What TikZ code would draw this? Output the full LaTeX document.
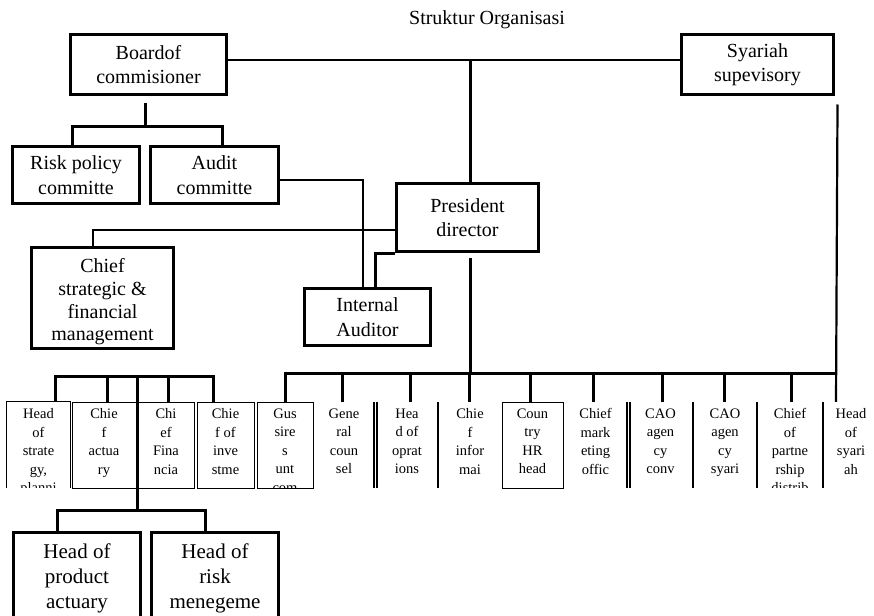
\documentclass[tikz,border=0pt]{standalone}
\usepackage{fontspec}
\setmainfont{Liberation Serif}
\begin{document}
\begin{tikzpicture}[x=1pt,y=-1pt]
\tikzset{
 mainbox/.style={draw, line width=3pt, inner sep=0pt, align=center, font=\fontsize{20}{24.5}\selectfont},
 conn/.style={line width=3pt},
 thinconn/.style={line width=1.5pt},
 midconn/.style={line width=2.2pt},
 cellbox/.style={draw, line width=1pt, minimum height=86pt, inner sep=0pt},
 cellnone/.style={minimum height=86pt, inner sep=0pt},
 celltext/.style={anchor=north, align=center, inner sep=0pt, font=\fontsize{14.5}{18.5}\selectfont},
 sepline/.style={line width=1.2pt},
}
\useasboundingbox[fill=white] (0,0) rectangle (874,615);

\node[font=\fontsize{20}{24}\selectfont] (title) at (487,20) {Struktur Organisasi};

% main boxes
\node[mainbox, minimum width=156pt, minimum height=60pt] (board) at (148.5,64.5) {Boardof\\commisioner};
\node[mainbox, minimum width=152pt, minimum height=60pt] (syariah) at (757.5,64.5) {Syariah\\supevisory};
\node[mainbox, minimum width=127pt, minimum height=57pt] (risk) at (76,175) {Risk policy\\committe};
\node[mainbox, minimum width=128pt, minimum height=57pt] (audit) at (214.5,175) {Audit\\committe};
\node[mainbox, minimum width=142pt, minimum height=68pt] (president) at (467.5,217.5) {President\\director};
\node[mainbox, minimum width=142pt, minimum height=101pt, font=\fontsize{20}{22.7}\selectfont] (chief) at (102.5,298) {\rule{0pt}{22pt}Chief\\strategic \&\\financial\\management};
\node[mainbox, minimum width=126pt, minimum height=57pt] (internal) at (367.5,317) {Internal\\Auditor};
\node[mainbox, minimum width=127pt, minimum height=92pt, font=\fontsize{21}{25}\selectfont] (hpa) at (77,578) {Head of\\product\\actuary};
\node[mainbox, minimum width=127pt, minimum height=92pt, font=\fontsize{21}{25}\selectfont] (hrm) at (215,578) {Head of\\risk\\menegeme};

% bottom row cells
\node[cellnone, minimum width=63pt] (hos) at (38.5,445) {};
\node[cellbox, minimum width=64pt] (act) at (104,445) {};
\node[cellbox, minimum width=56pt] (fin) at (166,445) {};
\node[cellbox, minimum width=57pt] (inv) at (225.5,445) {};
\node[cellbox, minimum width=56pt] (gus) at (285,445) {};
\node[cellnone, minimum width=58pt] (gen) at (344,445) {};
\node[cellnone, minimum width=58pt] (hop) at (407,445) {};
\node[cellnone, minimum width=60pt] (inf) at (470,445) {};
\node[cellbox, minimum width=61pt] (chr) at (532.5,445) {};
\node[cellnone, minimum width=61pt] (cmo) at (595.5,445) {};
\node[cellnone, minimum width=61pt] (cac) at (660.5,445) {};
\node[cellnone, minimum width=60pt] (cas) at (725,445) {};
\node[cellnone, minimum width=62pt] (cpd) at (790,445) {};
\node[cellnone, minimum width=49pt] (hsy) at (849.5,445) {};
\draw[line width=1pt] (hos.south west) |- (hos.north east) -- (hos.south east);

\begin{scope}
\clip (0,402) rectangle (874,487.5);
\node[celltext] (host) at (38.5,408.5) {Head\\of\\strate\\gy,\\planni};
\node[celltext] (actt) at (104,408.5) {Chie\\f\\actua\\ry};
\node[celltext] (fint) at (166,408.5) {Chi\\ef\\Fina\\ncia};
\node[celltext] (invt) at (225.5,408.5) {Chie\\f of\\inve\\stme};
\node[celltext] (gust) at (285,408.5) {Gus\\sire\\s\\unt\\com};
\node[celltext] (gent) at (344,408.5) {Gene\\ral\\coun\\sel};
\node[celltext] (hopt) at (407,408.5) {Hea\\d of\\oprat\\ions};
\node[celltext] (inft) at (470,408.5) {Chie\\f\\infor\\mai};
\node[celltext] (chrt) at (532.5,408.5) {Coun\\try\\HR\\head};
\node[celltext] (cmot) at (595.5,408.5) {Chief\\mark\\eting\\offic};
\node[celltext] (cact) at (660.5,408.5) {CAO\\agen\\cy\\conv};
\node[celltext] (cast) at (725,408.5) {CAO\\agen\\cy\\syari};
\node[celltext] (cpdt) at (790,408.5) {Chief\\of\\partne\\rship\\distrib};
\node[celltext] (hsyt) at (851,408.5) {Head\\of\\syari\\ah};
\end{scope}

% separators in the right row
\foreach \x in {374,377,438,627,630,693,757,823}
  \draw[sepline] (\x,402) -- (\x,488);

% coordinates
\coordinate (j1) at (470,60);
\coordinate (bm) at (145,126);
\coordinate (bl) at (72,126);
\coordinate (br) at (222,126);
\coordinate (pb) at (470,373);
\coordinate (rbr) at (836,373);
\coordinate (lbl) at (55,376);
\coordinate (lbr) at (213,376);
\coordinate (lm) at (137,376);
\coordinate (lowj) at (137,510);
\coordinate (ll) at (57,510);
\coordinate (lr) at (205,510);

% connectors
\draw[thinconn] ([yshift=4.5pt]board.east) -- ([yshift=4.5pt]syariah.west);
\draw[conn] (j1) -- (president.north -| j1);
\draw[conn] ([xshift=-3.5pt,yshift=-7.5pt]board.south) -- (bm);
\draw[conn] (risk.north -| bl) |- (br) -- (audit.north -| br);
\draw[midconn] ([yshift=-5pt]audit.east) -| ([xshift=-4.5pt]internal.north);
\draw[midconn] ([yshift=-12.5pt]president.west) -| ([xshift=-9.5pt]chief.north);
\draw[conn] (president.south west) -| ([xshift=7.5pt]internal.north);
\draw[conn] ([xshift=2.5pt,yshift=-5pt]president.south) -- (pb);
\draw[midconn] ([xshift=2.5pt,yshift=-8.5pt]syariah.south east) -- (hsy.north -| rbr);
\draw[conn] (gus.north) |- (rbr);
\foreach \n/\x in {gen/342, hop/410, inf/469, chr/530, cmo/593, cac/662, cas/724, cpd/791}
  \draw[conn] (\x,373) -- (\x,373 |- \n.north);

\draw[conn] (hos.north -| lbl) |- (lbr) -- (inv.north -| lbr);
\draw[conn] (107,376) -- (107,376 |- act.north);
\draw[conn] (168,376) -- (168,376 |- fin.north);
\draw[conn] (lm) -- (lowj);
\draw[conn] (hpa.north -| ll) |- (lr) -- (hrm.north -| lr);
\end{tikzpicture}
\end{document}
